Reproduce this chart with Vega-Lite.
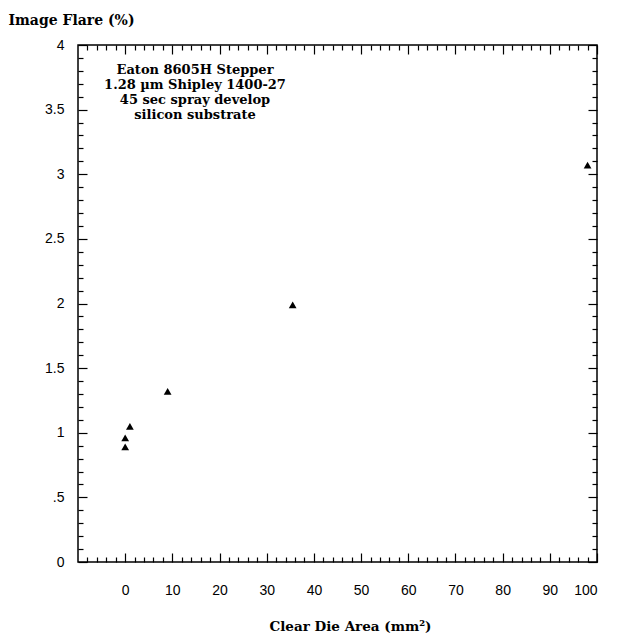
{
  "$schema": "https://vega.github.io/schema/vega-lite/v6.json",
  "width": 519,
  "height": 517,
  "autosize": {"type": "none"},
  "padding": {"left": 78, "top": 45, "right": 27, "bottom": 71},
  "background": "white",
  "config": {
    "view": {"stroke": "black", "strokeWidth": 1.5},
    "axis": {"domain": false, "grid": false, "tickColor": "black", "labelColor": "black", "tickWidth": 1.2, "labelFont": "Liberation Sans", "labelFontSize": 14, "titleColor": "black"}
  },
  "data": {"values": [
    {"area": 0, "flare": 0.89},
    {"area": 0, "flare": 0.96},
    {"area": 1, "flare": 1.05},
    {"area": 9, "flare": 1.32},
    {"area": 35.5, "flare": 1.99},
    {"area": 98, "flare": 3.07}
  ]},
  "layer": [
    {
      "mark": {"type": "point", "shape": "triangle-up", "filled": true, "color": "black", "size": 60, "opacity": 1},
      "encoding": {
        "x": {"field": "area", "type": "quantitative", "scale": {"domain": [-10, 100], "nice": false, "zero": false},
          "axis": {"orient": "bottom", "values": [0,10,20,30,40,50,60,70,80,90,100], "tickSize": -9, "labelPadding": 30, "format": "d",
            "title": "Clear Die Area (mm²)", "titleFont": "DejaVu Serif", "titleFontSize": 13.5, "titleFontWeight": "bold", "titlePadding": 22, "titleX": 272}},
        "y": {"field": "flare", "type": "quantitative", "scale": {"domain": [0, 4], "nice": false},
          "axis": {"orient": "left", "values": [0,0.5,1,1.5,2,2.5,3,3.5,4], "tickSize": -9, "labelPadding": 23,
            "labelExpr": "datum.value == 0.5 ? '.5' : format(datum.value, '~g')",
            "title": "Image Flare (%)", "titleAngle": 0, "titleAlign": "left", "titleBaseline": "middle", "titleX": -70, "titleY": -25,
            "titleFont": "DejaVu Serif", "titleFontSize": 14, "titleFontWeight": "bold"}}
      }
    },
    {
      "mark": {"type": "point", "opacity": 0},
      "encoding": {
        "x": {"field": "area", "type": "quantitative", "scale": {"domain": [-10, 100], "nice": false, "zero": false},
          "axis": {"orient": "bottom", "values": [-8,-6,-4,-2,2,4,6,8,12,14,16,18,22,24,26,28,32,34,36,38,42,44,46,48,52,54,56,58,62,64,66,68,72,74,76,78,82,84,86,88,92,94,96,98], "tickSize": -5, "labels": false, "title": null}},
        "y": {"field": "flare", "type": "quantitative", "scale": {"domain": [0, 4], "nice": false},
          "axis": {"orient": "left", "values": [0.1,0.2,0.3,0.4,0.6,0.7,0.8,0.9,1.1,1.2,1.3,1.4,1.6,1.7,1.8,1.9,2.1,2.2,2.3,2.4,2.6,2.7,2.8,2.9,3.1,3.2,3.3,3.4,3.6,3.7,3.8,3.9], "tickSize": -5, "labels": false, "title": null}}
      }
    },
    {
      "mark": {"type": "point", "opacity": 0},
      "encoding": {
        "x": {"field": "area", "type": "quantitative", "scale": {"domain": [-10, 100], "nice": false, "zero": false},
          "axis": {"orient": "top", "values": [0,10,20,30,40,50,60,70,80,90,100], "tickSize": -9, "labels": false, "title": null}},
        "y": {"field": "flare", "type": "quantitative", "scale": {"domain": [0, 4], "nice": false},
          "axis": {"orient": "right", "values": [0,0.5,1,1.5,2,2.5,3,3.5,4], "tickSize": -9, "labels": false, "title": null}}
      }
    },
    {
      "mark": {"type": "point", "opacity": 0},
      "encoding": {
        "x": {"field": "area", "type": "quantitative", "scale": {"domain": [-10, 100], "nice": false, "zero": false},
          "axis": {"orient": "top", "values": [-8,-6,-4,-2,2,4,6,8,12,14,16,18,22,24,26,28,32,34,36,38,42,44,46,48,52,54,56,58,62,64,66,68,72,74,76,78,82,84,86,88,92,94,96,98], "tickSize": -5, "labels": false, "title": null}},
        "y": {"field": "flare", "type": "quantitative", "scale": {"domain": [0, 4], "nice": false},
          "axis": {"orient": "right", "values": [0.1,0.2,0.3,0.4,0.6,0.7,0.8,0.9,1.1,1.2,1.3,1.4,1.6,1.7,1.8,1.9,2.1,2.2,2.3,2.4,2.6,2.7,2.8,2.9,3.1,3.2,3.3,3.4,3.6,3.7,3.8,3.9], "tickSize": -5, "labels": false, "title": null}}
      }
    },
    {
      "data": {"values": [{"note": "Eaton 8605H Stepper\n1.28 µm Shipley 1400-27\n45 sec spray develop\nsilicon substrate"}]},
      "mark": {"type": "text", "lineBreak": "\n", "align": "center", "baseline": "top", "font": "DejaVu Serif", "fontSize": 13, "fontWeight": "bold", "lineHeight": 15, "color": "black"},
      "encoding": {
        "text": {"field": "note", "type": "nominal"},
        "x": {"datum": 14.8, "type": "quantitative", "axis": null},
        "y": {"datum": 3.85, "type": "quantitative", "axis": null}
      }
    }
  ],
  "resolve": {"axis": {"x": "independent", "y": "independent"}}
}
